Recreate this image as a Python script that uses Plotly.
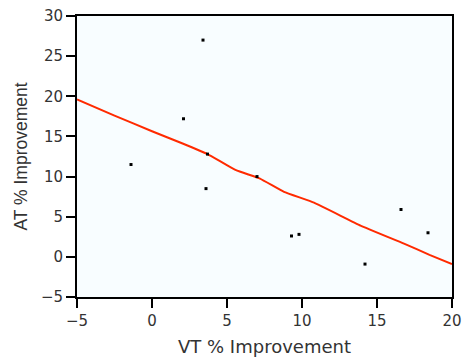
import plotly.graph_objects as go

# Observed improvements per subject
vt_improvement = [-1.4, 2.1, 3.4, 3.7, 3.6, 7.0, 9.3, 9.8, 14.2, 16.6, 18.4]
at_improvement = [11.5, 17.2, 27.0, 12.8, 8.5, 10.0, 2.6, 2.8, -0.9, 5.9, 3.0]

# Smoothed fit curve
fit_x = [-5, -2.5, 0, 2, 3.7, 5.6, 7.2, 8.8, 10.8, 13.9, 16.8, 18.5, 20]
fit_y = [19.6, 17.6, 15.65, 14.15, 12.8, 10.8, 9.75, 8.1, 6.75, 3.9, 1.65, 0.25, -0.9]

tick_vals_x = [-5, 0, 5, 10, 15, 20]
tick_vals_y = [-5, 0, 5, 10, 15, 20, 25, 30]

fig = go.Figure()
fig.add_trace(go.Scatter(
    x=fit_x, y=fit_y, mode="lines",
    line=dict(color="#ff2a00", width=2, shape="spline", smoothing=0.3),
    hoverinfo="skip",
))
fig.add_trace(go.Scatter(
    x=vt_improvement, y=at_improvement, mode="markers",
    marker=dict(symbol="square", size=3, color="black", line=dict(width=0)),
))

axis_common = dict(
    showline=True, linecolor="black", linewidth=2, mirror=True,
    ticks="outside", ticklen=9, tickwidth=2, tickcolor="black",
    showgrid=False, zeroline=False, automargin=False,
    tickfont=dict(family="DejaVu Sans", size=15, color="#333333"),
)

fig.update_layout(
    width=463, height=358,
    margin=dict(l=77, r=11, t=16, b=61),
    paper_bgcolor="white",
    plot_bgcolor="#f8fdff",
    showlegend=False,
    xaxis=dict(
        range=[-5, 20], tickvals=tick_vals_x,
        ticktext=["\u22125", "0", "5", "10", "15", "20"],
        title=dict(text="VT % Improvement", standoff=11,
                   font=dict(family="DejaVu Sans", size=18, color="#333333")),
        **axis_common,
    ),
    yaxis=dict(
        range=[-5, 30], tickvals=tick_vals_y,
        ticktext=["\u22125", "0", "5", "10", "15", "20", "25", "30"],
        title=dict(text="AT % Improvement", standoff=9,
                   font=dict(family="Liberation Sans", size=17.5, color="#333333")),
        **axis_common,
    ),
)

fig.write_html("out.html")
